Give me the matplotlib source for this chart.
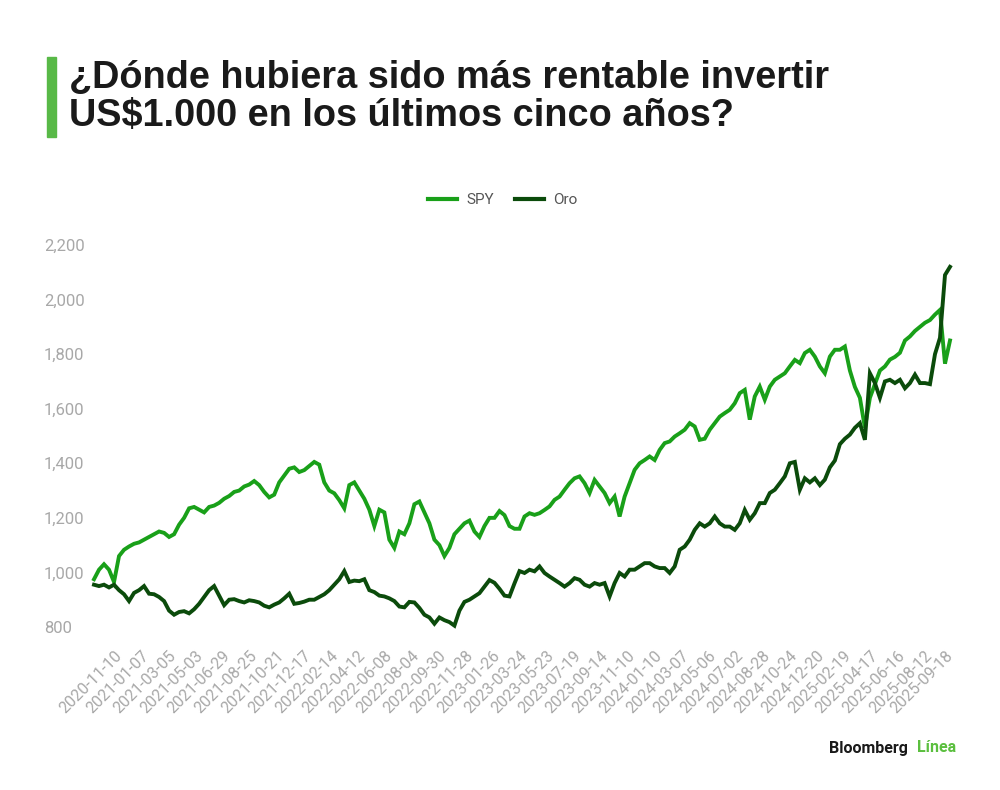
import numpy as np
import matplotlib
matplotlib.use("Agg")
import matplotlib.pyplot as plt
from matplotlib.lines import Line2D

# ---------------- data ----------------
tick_labels = [
    "2020-11-10", "2021-01-07", "2021-03-05", "2021-05-03", "2021-06-29", "2021-08-25",
    "2021-10-21", "2021-12-17", "2022-02-14", "2022-04-12", "2022-06-08", "2022-08-04",
    "2022-09-30", "2022-11-28", "2023-01-26", "2023-03-24", "2023-05-23", "2023-07-19",
    "2023-09-14", "2023-11-10", "2024-01-10", "2024-03-07", "2024-05-06", "2024-07-02",
    "2024-08-28", "2024-10-24", "2024-12-20", "2025-02-19", "2025-04-17", "2025-06-16",
    "2025-08-12", "2025-09-18",
]
# trading-day index of each labelled date (series starts at index 0)
tick_index = [38 + 40 * k for k in range(31)] + [1268]
last_index = 1268

spy = [
    975, 1010, 1030, 1010, 965, 1060, 1083, 1095, 1105, 1110, 1120, 1130, 1140, 1150, 1145,
    1130, 1140, 1175, 1200, 1235, 1240, 1230, 1220, 1240, 1245, 1255, 1270, 1280, 1295, 1300,
    1315, 1322, 1335, 1320, 1295, 1275, 1285, 1330, 1355, 1380, 1385, 1368, 1375, 1390, 1405,
    1395, 1330, 1300, 1290, 1265, 1235, 1320, 1330, 1300, 1270, 1230, 1170, 1230, 1220, 1120,
    1090, 1150, 1140, 1180, 1250, 1260, 1220, 1180, 1120, 1100, 1060, 1090, 1140, 1160, 1180,
    1190, 1150, 1130, 1170, 1200, 1200, 1225, 1210, 1170, 1160, 1160,
    1205, 1217, 1211, 1217, 1229, 1242, 1266, 1278, 1303, 1327, 1345, 1352, 1327, 1291, 1339,
    1315, 1291, 1254, 1278, 1205, 1278, 1327, 1376, 1400, 1412, 1425, 1412, 1449, 1474, 1480,
    1498, 1510, 1523, 1547, 1535, 1486, 1490, 1523, 1547, 1571, 1584, 1596, 1620, 1657, 1669,
    1560, 1645, 1681, 1633, 1681, 1706, 1718, 1730, 1755, 1779, 1767, 1804, 1816, 1791, 1755,
    1730, 1791, 1816, 1816, 1828, 1740, 1680, 1640, 1530, 1640, 1690, 1740, 1755, 1780, 1790,
    1805, 1850, 1865, 1885, 1900, 1915, 1925, 1945, 1962, 1765, 1850,
]

oro = [
    955, 950, 955, 945, 955, 935, 920, 895, 925, 935, 950, 922, 920, 910, 895,
    860, 845, 855, 858, 850, 865, 885, 910, 935, 950, 915, 880, 900, 902, 895,
    890, 898, 895, 890, 878, 872, 882, 890, 905, 922, 885, 888, 893, 900, 900,
    910, 920, 935, 955, 975, 1005, 965, 970, 968, 975, 935, 928, 915, 912, 905,
    895, 875, 872, 892, 890, 870, 845, 835, 812, 835, 825, 818, 805, 860, 892,
    900, 912, 924, 948, 972, 962, 940, 915, 912, 960, 1005,
    998, 1010, 1004, 1022, 998, 985, 973, 961, 948, 961, 979, 973, 955, 948, 961,
    955, 961, 912, 961, 998, 985, 1010, 1010, 1022, 1034, 1034, 1022, 1016, 1016, 998,
    1022, 1083, 1095, 1120, 1156, 1180, 1168, 1180, 1205, 1180, 1168, 1168, 1156, 1180, 1229,
    1193, 1217, 1254, 1254, 1291, 1303, 1327, 1352, 1400, 1405, 1303, 1345, 1330, 1345, 1320,
    1340, 1385, 1410, 1470, 1490, 1505, 1530, 1547, 1486, 1730, 1694, 1640, 1700, 1706, 1694,
    1706, 1675, 1694, 1725, 1694, 1694, 1690, 1800, 1860, 2090, 2120,
]

y_ticks = [800, 1000, 1200, 1400, 1600, 1800, 2000, 2200]

series_names = ["SPY", "Oro"]
colors = ["#19a019", "#0b4b0b"]

title = "¿Dónde hubiera sido más rentable invertir\nUS$1.000 en los últimos cinco años?"

# ---------------- figure ----------------
W, H = 1000, 790
fig = plt.figure(figsize=(W / 100, H / 100), dpi=100)
fig.patch.set_facecolor("white")

ax = fig.add_axes([0.094, (H - 627) / H, 0.950 - 0.094, (627 - 245) / H])
ax.set_facecolor("white")

x_spy = np.linspace(0, last_index, len(spy))
x_oro = np.linspace(0, last_index, len(oro))
ax.plot(x_spy, spy, color=colors[0], lw=2.8, solid_joinstyle="miter", clip_on=False, zorder=3)
ax.plot(x_oro, oro, color=colors[1], lw=2.8, solid_joinstyle="miter", clip_on=False, zorder=4)

ax.set_xlim(0, last_index)
ax.set_ylim(800, 2200)
for s in ax.spines.values():
    s.set_visible(False)

ax.set_yticks(y_ticks)
ax.set_yticklabels([f"{v:,}" for v in y_ticks])
ax.tick_params(axis="y", length=0, pad=36, labelsize=12, labelcolor="#a8a8a8")
for lab in ax.get_yticklabels():
    lab.set_horizontalalignment("left")
    lab.set_fontfamily(["Roboto", "DejaVu Sans"])

ax.set_xticks(tick_index)
ax.set_xticklabels(tick_labels, rotation=45, ha="right", va="center",
                   rotation_mode="anchor")
ax.tick_params(axis="x", length=0, pad=19, labelsize=11.5, labelcolor="#a8a8a8")
for lab in ax.get_xticklabels():
    lab.set_fontfamily(["Roboto", "DejaVu Sans"])

# ---------------- title block ----------------
fig.patches.append(plt.Rectangle((47 / W, 1 - 137 / H), 9 / W, 80 / H,
                                 transform=fig.transFigure, color="#58b947"))
fig.text(69 / W, 1 - 60 / H, title, ha="left", va="top", fontsize=27.3,
         fontweight="bold", color="#1a1a1a", linespacing=1.08,
         family=["Liberation Sans", "DejaVu Sans"])

# ---------------- legend ----------------
handles = [Line2D([], [], color=c, lw=3) for c in colors]
fig.legend(handles, series_names, loc="center", bbox_to_anchor=(503 / W, 1 - 200 / H),
           ncol=2, frameon=False, handlelength=1.9, handletextpad=0.6, columnspacing=1.4,
           prop={"family": ["Roboto", "DejaVu Sans"], "size": 11}, labelcolor="#555555")

# ---------------- logo ----------------
fig.text(829 / W, 1 - 748 / H, "Bloomberg", ha="left", va="center", fontsize=11.5,
         fontweight="bold", color="#1a1a1a", family=["Roboto", "DejaVu Sans"])
fig.text(917 / W, 1 - 748 / H, "Línea", ha="left", va="center", fontsize=11.5,
         fontweight="bold", color="#5bbf3f", family=["Roboto", "DejaVu Sans"])

fig.savefig("out.png", dpi=100, facecolor="white")
